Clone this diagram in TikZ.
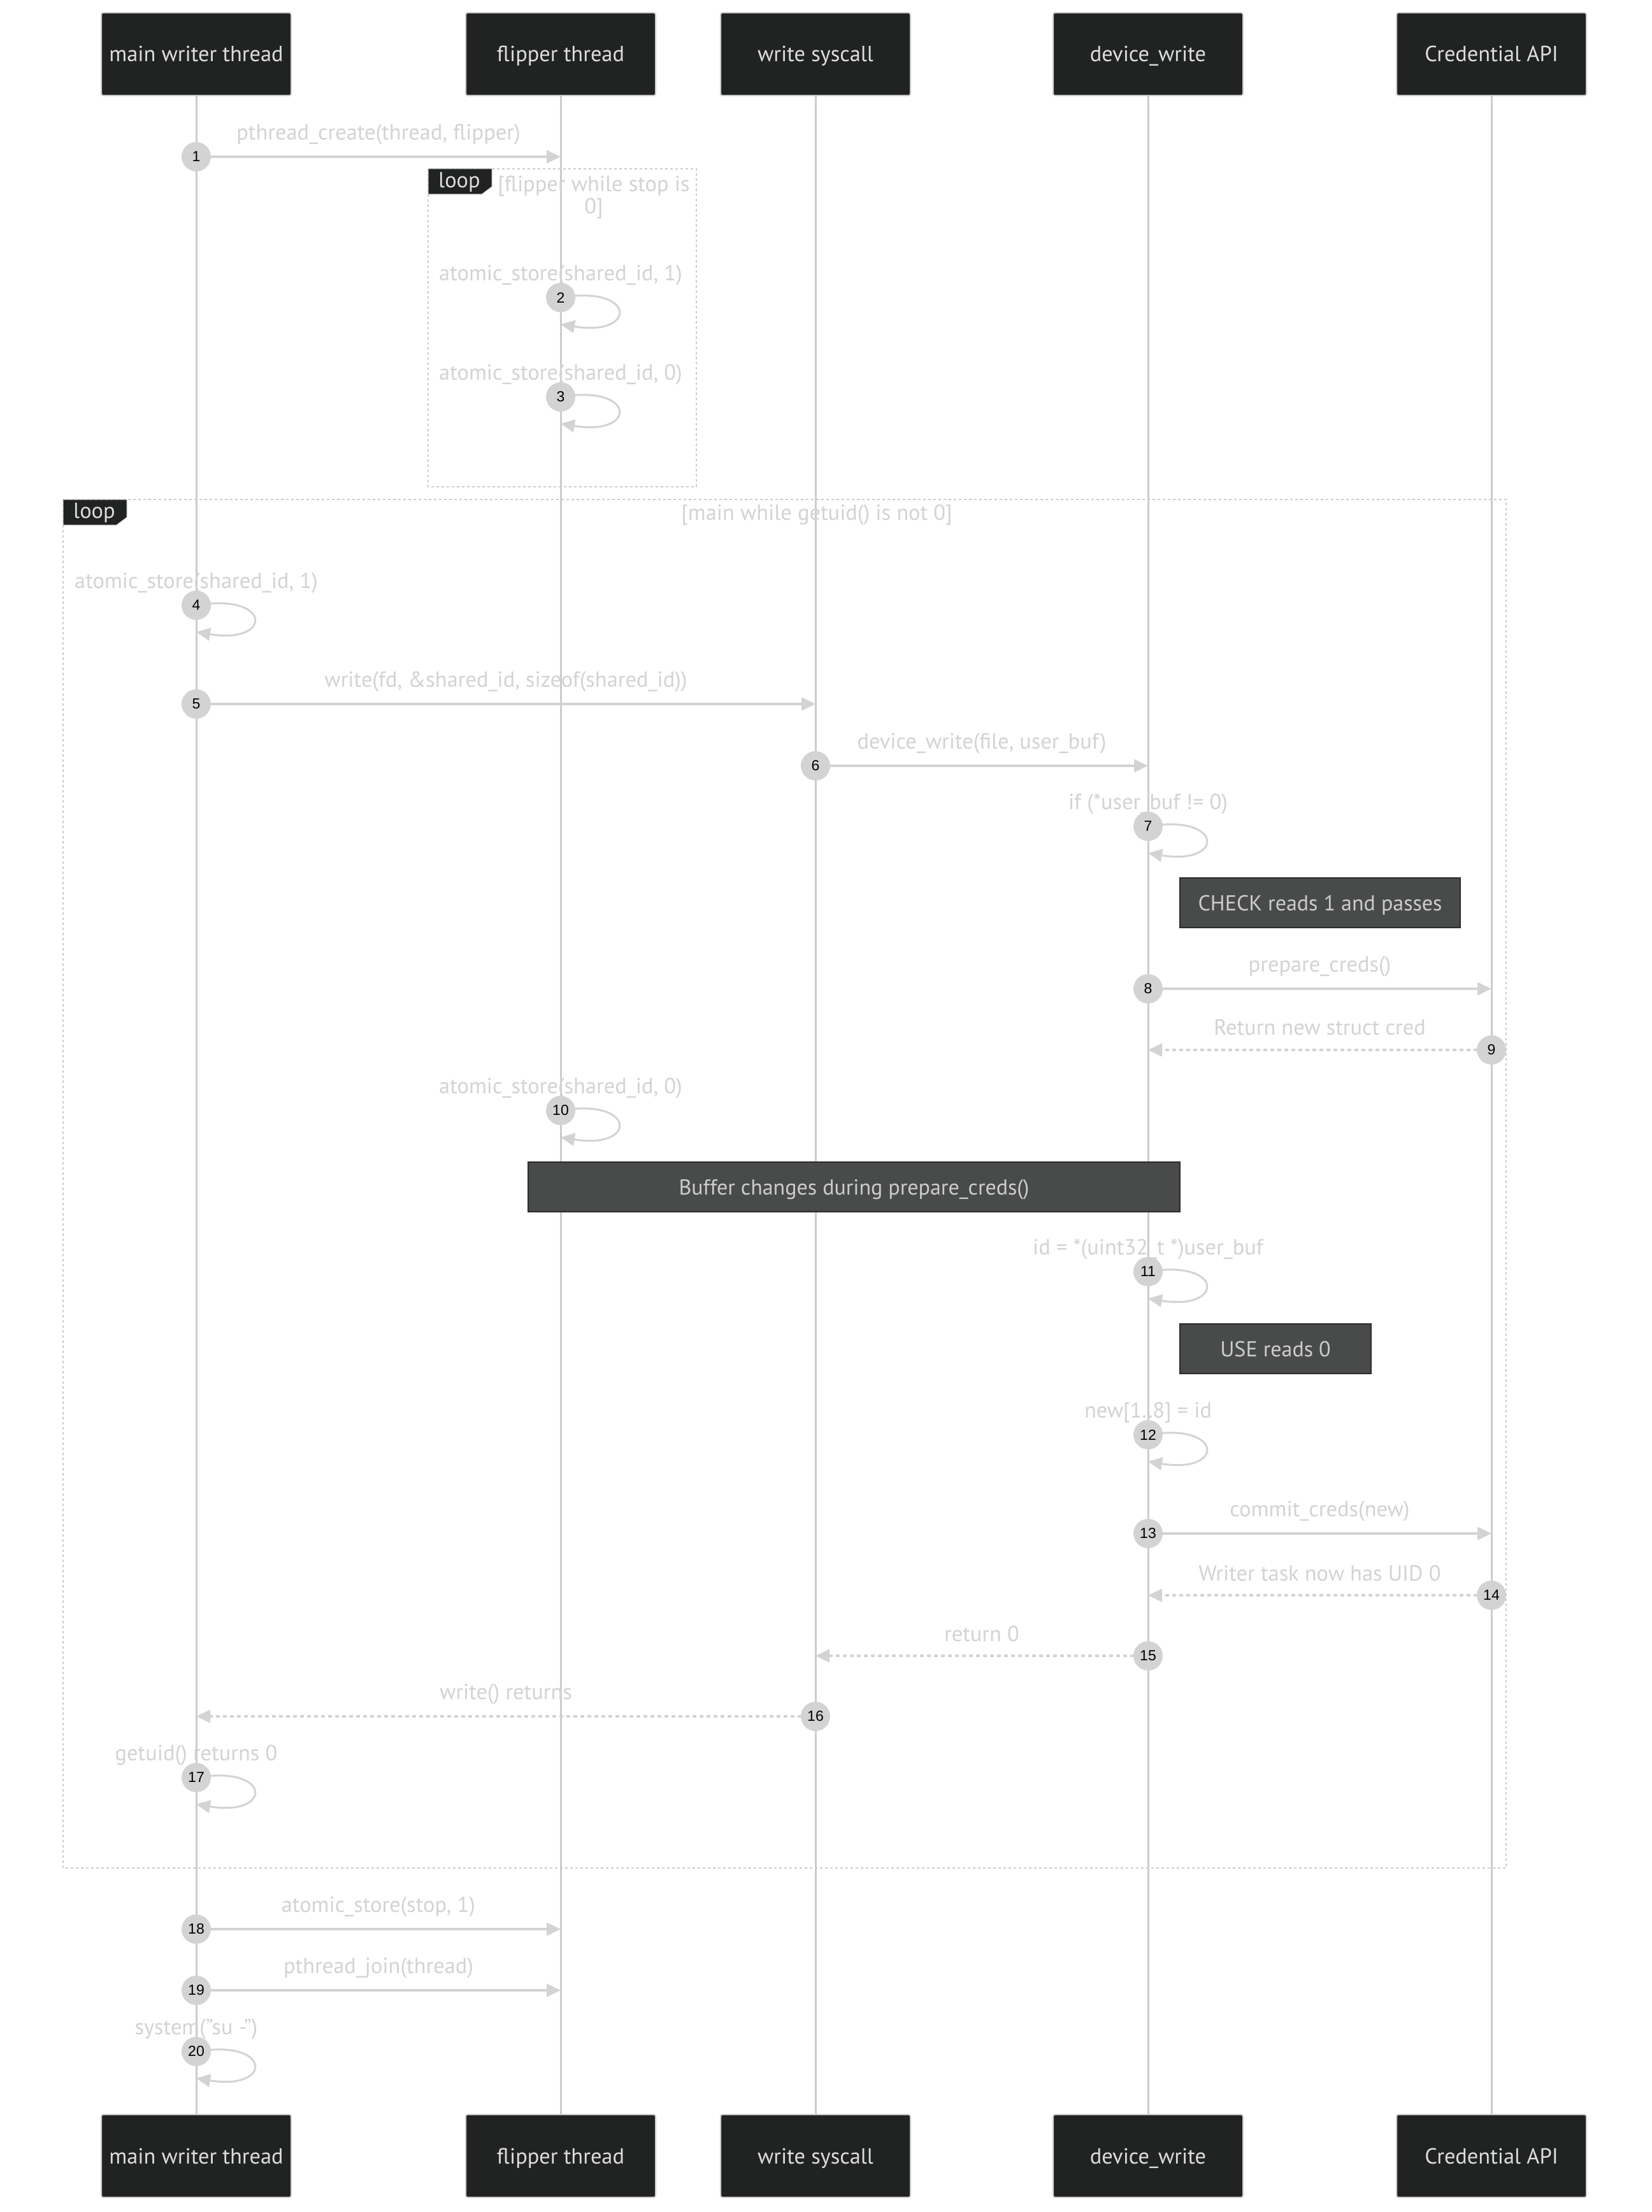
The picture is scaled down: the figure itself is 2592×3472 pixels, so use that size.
\documentclass[tikz,border=0pt]{standalone}
\usepackage{fontspec}
\setmainfont{PT Sans}
\newfontfamily\numfont{Liberation Sans}
\usetikzlibrary{arrows.meta}

\definecolor{actorfill}{HTML}{212322}
\definecolor{actortext}{HTML}{DDDDDD}
\definecolor{lifeline}{HTML}{CCCCCC}
\definecolor{msgcol}{HTML}{D3D3D3}
\definecolor{notefill}{HTML}{494B4A}
\definecolor{noteline}{HTML}{2C2C2C}

\pgfdeclarelayer{bg}
\pgfsetlayers{bg,main}

% self message on one lifeline
\newcommand{\selfmsg}[2]{%
  \draw[selfline] (#1.center)
    .. controls ([shift={(120,-20)}]#1.center) and ([shift={(120,62)}]#1.center)
    .. ([shift={(0,42)}]#1.center);
  \node at ([yshift=17.5pt]#1.center) [lbl] {#2};
}

\begin{document}
\begin{tikzpicture}[x=0.5pt,y=-0.5pt,
  actor/.style={draw=lifeline,line width=1pt,fill=actorfill,text=actortext,
    rounded corners=1.5pt,minimum width=149pt,minimum height=65pt,
    text height=14pt,text depth=2pt,
    font=\fontsize{17.2}{20}\selectfont},
  num/.style={circle,fill=msgcol,minimum size=23pt,inner sep=0pt,
    text=black,font=\numfont\fontsize{11.5}{13}\selectfont},
  lbl/.style={text=msgcol,font=\fontsize{17.2}{20}\selectfont},
  msg/.style={draw=msgcol,line width=2pt,-{Triangle[length=11pt,width=10pt]}},
  ret/.style={msg,dash pattern=on 3pt off 2.5pt},
  selfline/.style={draw=msgcol,line width=1.5pt,-{Triangle[length=11pt,width=10pt]}},
  lifel/.style={draw=lifeline,line width=1.5pt},
  loopbox/.style={draw=lifeline,line width=1pt,dash pattern=on 2pt off 2pt},
  looptab/.style={draw=lifeline,line width=0.5pt,fill=actorfill},
  tabtext/.style={text=actortext,font=\fontsize{17.2}{20}\selectfont},
  note/.style={draw=noteline,line width=1pt,fill=notefill,text=lifeline,
    minimum height=39pt,inner sep=0pt,text height=14pt,text depth=2pt,
    font=\fontsize{17}{20}\selectfont}]

\useasboundingbox (0,0) rectangle (2592,3472);

% participants
\node (main) at (308,85) [actor] {main writer thread};
\node (flip) at (880,85) [actor] {flipper thread};
\node (wsys) at (1280,85) [actor] {write syscall};
\node (dev) at (1802,85) [actor] {device\_write};
\node (cred) at (2341,85) [actor] {Credential API};
\node (mainb) at (308,3384) [actor] {main writer thread};
\node (flipb) at (880,3384) [actor] {flipper thread};
\node (wsysb) at (1280,3384) [actor] {write syscall};
\node (devb) at (1802,3384) [actor] {device\_write};
\node (credb) at (2341,3384) [actor] {Credential API};

% sequence numbers
\node (s1) at (308,246) [num] {1};
\node (s2) at (880,467) [num] {2};
\node (s3) at (880,623) [num] {3};
\node (s4) at (308,950) [num] {4};
\node (s5) at (308,1105) [num] {5};
\node (s6) at (1280,1202) [num] {6};
\node (s7) at (1802,1297) [num] {7};
\node (s8) at (1802,1552) [num] {8};
\node (s9) at (2341,1648) [num] {9};
\node (s10) at (880,1743) [num] {10};
\node (s11) at (1802,1996) [num] {11};
\node (s12) at (1802,2252) [num] {12};
\node (s13) at (1802,2407) [num] {13};
\node (s14) at (2341,2504) [num] {14};
\node (s15) at (1802,2599) [num] {15};
\node (s16) at (1280,2694) [num] {16};
\node (s17) at (308,2790) [num] {17};
\node (s18) at (308,3028) [num] {18};
\node (s19) at (308,3124) [num] {19};
\node (s20) at (308,3220) [num] {20};

% notes
\node (check) at (2072,1417) [note,minimum width=220pt] {CHECK reads 1 and passes};
\node (buf) at (1340.5,1863) [note,minimum width=511.5pt] {Buffer changes during prepare\_creds()};
\node (use) at (2002,2117) [note,minimum width=150pt] {USE reads 0};

\begin{pgfonlayer}{bg}
\fill[white] (0,0) rectangle (2592,3472);
% lifelines
\foreach \a in {main,flip,wsys,dev,cred}
  \draw[lifel] (\a.south) -- (\a b.north);

% loops
\draw[loopbox] (672,265) rectangle (1093,764);
\draw[looptab] (672,265) -- ++(100,0) -- ++(0,28) -- ++(-16,12) -- (672,305) -- cycle;
\node (tab1) at (721,286) [tabtext] {loop};
\node (cond1) at (932,310) [lbl,align=center,font=\fontsize{17.2}{17.5}\selectfont]
  {[flipper while stop is\\0]};
\draw[loopbox] (99,784) rectangle (2364,2932);
\draw[looptab] (99,784) -- ++(100,0) -- ++(0,28) -- ++(-16,12) -- (99,824) -- cycle;
\node (tab2) at (148,805) [tabtext] {loop};
\node (cond2) at (1282,808) [lbl] {[main while getuid() is not 0]};

% messages
\draw[msg] (s1.center) -- node[lbl,yshift=17.5pt] {pthread\_create(thread, flipper)} (flip |- s1);
\selfmsg{s2}{atomic\_store(shared\_id, 1)}
\selfmsg{s3}{atomic\_store(shared\_id, 0)}
\selfmsg{s4}{atomic\_store(shared\_id, 1)}
\draw[msg] (s5.center) -- node[lbl,yshift=17.5pt] {write(fd, \&shared\_id, sizeof(shared\_id))} (wsys |- s5);
\draw[msg] (s6.center) -- node[lbl,yshift=17.5pt] {device\_write(file, user\_buf)} (dev |- s6);
\selfmsg{s7}{if (*user\_buf != 0)}
\draw[msg] (s8.center) -- node[lbl,yshift=17.5pt] {prepare\_creds()} (cred |- s8);
\draw[ret] (s9.center) -- node[lbl,yshift=17.5pt] {Return new struct cred} (dev |- s9);
\selfmsg{s10}{atomic\_store(shared\_id, 0)}
\selfmsg{s11}{id = *(uint32\_t *)user\_buf}
\selfmsg{s12}{new[1..8] = id}
\draw[msg] (s13.center) -- node[lbl,yshift=17.5pt] {commit\_creds(new)} (cred |- s13);
\draw[ret] (s14.center) -- node[lbl,yshift=17.5pt] {Writer task now has UID 0} (dev |- s14);
\draw[ret] (s15.center) -- node[lbl,yshift=17.5pt] {return 0} (wsys |- s15);
\draw[ret] (s16.center) -- node[lbl,yshift=17.5pt] {write() returns} (main |- s16);
\selfmsg{s17}{getuid() returns 0}
\draw[msg] (s18.center) -- node[lbl,yshift=17.5pt] {atomic\_store(stop, 1)} (flip |- s18);
\draw[msg] (s19.center) -- node[lbl,yshift=17.5pt] {pthread\_join(thread)} (flip |- s19);
\selfmsg{s20}{system("su -")}
\end{pgfonlayer}
\end{tikzpicture}
\end{document}
